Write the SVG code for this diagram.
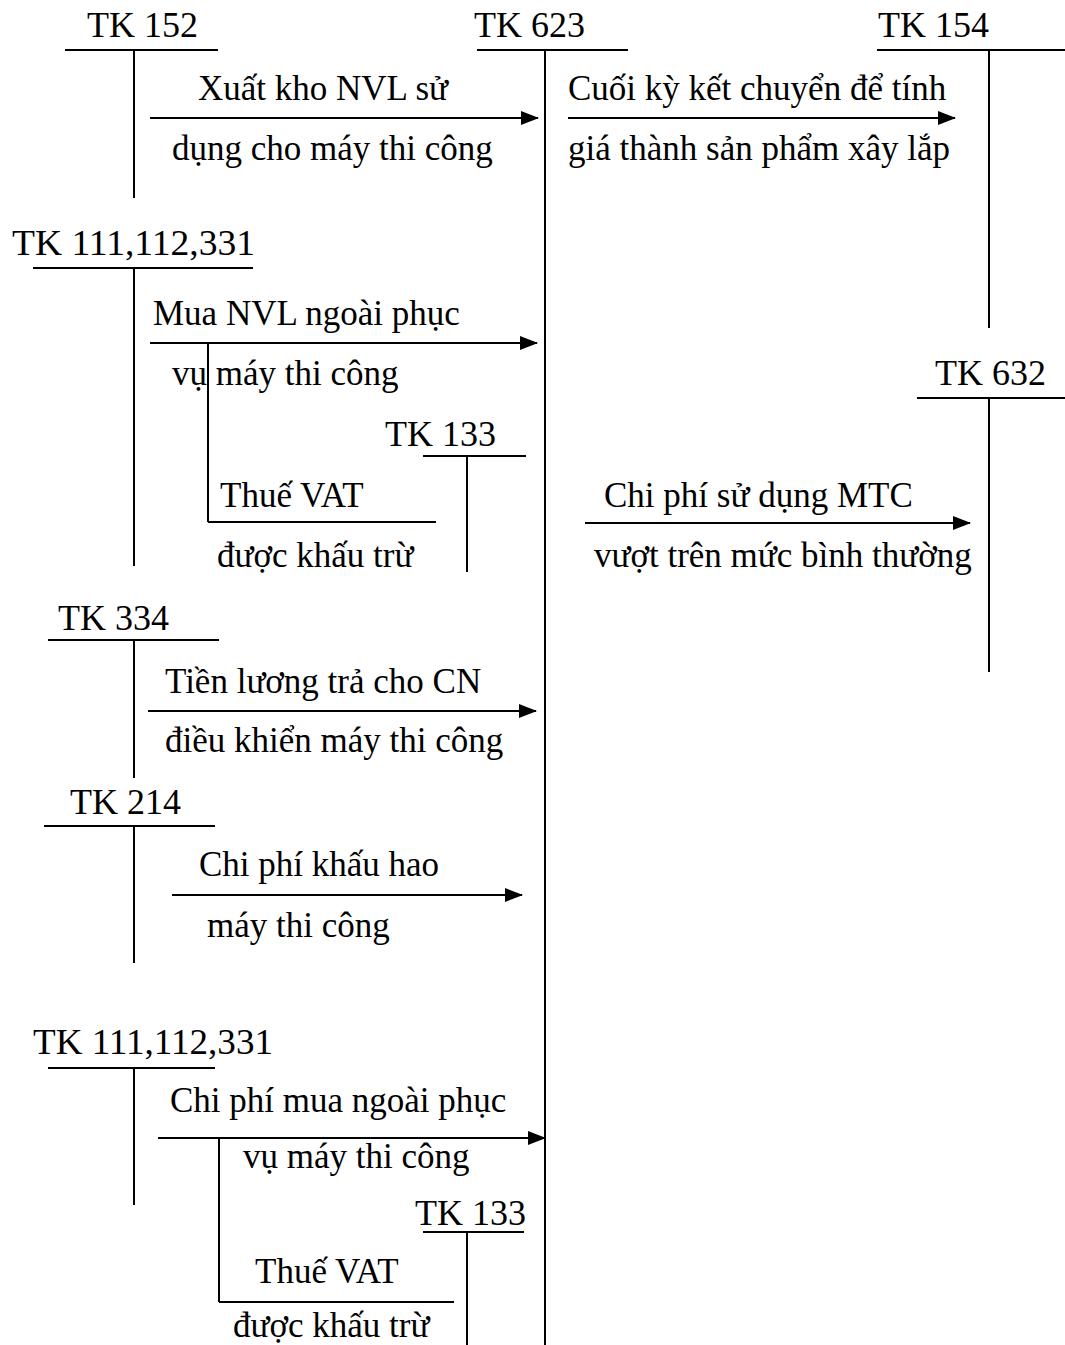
<svg xmlns="http://www.w3.org/2000/svg" width="1065" height="1345" viewBox="0 0 1065 1345">
<defs>
<marker id="ah" markerWidth="18" markerHeight="14" refX="17" refY="7" orient="auto" markerUnits="userSpaceOnUse" viewBox="0 0 18 14">
<path d="M0,0 L18,7 L0,14 z" fill="#000"/>
</marker>
<style>
text{font-family:"Liberation Serif","Times New Roman",serif;font-size:35px;fill:#000}
.tk{font-size:36px}
line{stroke:#000;stroke-width:2}
.arr{marker-end:url(#ah)}
</style>
</defs>
<rect width="1065" height="1345" fill="#fff"/>
<g id="tk152">
<text class="tk" x="87" y="37">TK 152</text>
<line x1="65" y1="50" x2="218" y2="50"/>
<line x1="134" y1="50" x2="134" y2="198"/>
</g>
<g id="tk623">
<text class="tk" x="474" y="37">TK 623</text>
<line x1="477" y1="50" x2="628" y2="50"/>
<line x1="545" y1="50" x2="545" y2="1345"/>
</g>
<g id="tk154">
<text class="tk" x="878" y="37">TK 154</text>
<line x1="877" y1="50" x2="1065" y2="50"/>
<line x1="989" y1="50" x2="989" y2="328"/>
</g>
<g id="tk111a">
<text class="tk" x="12" y="255" textLength="243" lengthAdjust="spacingAndGlyphs">TK 111,112,331</text>
<line x1="33" y1="268" x2="253" y2="268"/>
<line x1="134" y1="268" x2="134" y2="566"/>
</g>
<g id="tk133a">
<text class="tk" x="385" y="446">TK 133</text>
<line x1="423" y1="456" x2="526" y2="456"/>
<line x1="467" y1="456" x2="467" y2="572"/>
</g>
<g id="tk632">
<text class="tk" x="935" y="385">TK 632</text>
<line x1="917" y1="398" x2="1065" y2="398"/>
<line x1="989" y1="398" x2="989" y2="672"/>
</g>
<g id="tk334">
<text class="tk" x="58" y="630">TK 334</text>
<line x1="48" y1="640" x2="219" y2="640"/>
<line x1="134" y1="640" x2="134" y2="778"/>
</g>
<g id="tk214">
<text class="tk" x="70" y="814">TK 214</text>
<line x1="44" y1="826" x2="215" y2="826"/>
<line x1="134" y1="826" x2="134" y2="963"/>
</g>
<g id="tk111b">
<text class="tk" x="33" y="1054" textLength="240" lengthAdjust="spacingAndGlyphs">TK 111,112,331</text>
<line x1="48" y1="1068" x2="215" y2="1068"/>
<line x1="134" y1="1068" x2="134" y2="1205"/>
</g>
<g id="tk133b">
<text class="tk" x="415" y="1225">TK 133</text>
<line x1="423" y1="1232" x2="524" y2="1232"/>
<line x1="467" y1="1232" x2="467" y2="1345"/>
</g>
<g id="connectors">
<line class="arr" x1="150" y1="118" x2="538" y2="118"/>
<text x="198" y="100">Xuất kho NVL sử</text>
<text x="172" y="160">dụng cho máy thi công</text>
<line class="arr" x1="568" y1="118" x2="955" y2="118"/>
<text x="568" y="100">Cuối kỳ kết chuyển để tính</text>
<text x="568" y="160">giá thành sản phẩm xây lắp</text>
<line class="arr" x1="150" y1="343" x2="537" y2="343"/>
<text x="153" y="325">Mua NVL ngoài phục</text>
<text x="172" y="385">vụ máy thi công</text>
<line x1="208" y1="343" x2="208" y2="522"/>
<line x1="208" y1="522" x2="436" y2="522"/>
<text x="220" y="507">Thuế VAT</text>
<text x="217" y="567">được khấu trừ</text>
<line class="arr" x1="585" y1="523" x2="970" y2="523"/>
<text x="604" y="507">Chi phí sử dụng MTC</text>
<text x="594" y="567">vượt trên mức bình thường</text>
<line class="arr" x1="148" y1="711" x2="536" y2="711"/>
<text x="165" y="693">Tiền lương trả cho CN</text>
<text x="165" y="752">điều khiển máy thi công</text>
<line class="arr" x1="172" y1="895" x2="522" y2="895"/>
<text x="199" y="876">Chi phí khấu hao</text>
<text x="207" y="937">máy thi công</text>
<line class="arr" x1="158" y1="1138" x2="545" y2="1138"/>
<text x="170" y="1112">Chi phí mua ngoài phục</text>
<text x="243" y="1168">vụ máy thi công</text>
<line x1="219" y1="1138" x2="219" y2="1302"/>
<line x1="219" y1="1302" x2="454" y2="1302"/>
<text x="255" y="1283">Thuế VAT</text>
<text x="233" y="1337">được khấu trừ</text>
</g>
</svg>
